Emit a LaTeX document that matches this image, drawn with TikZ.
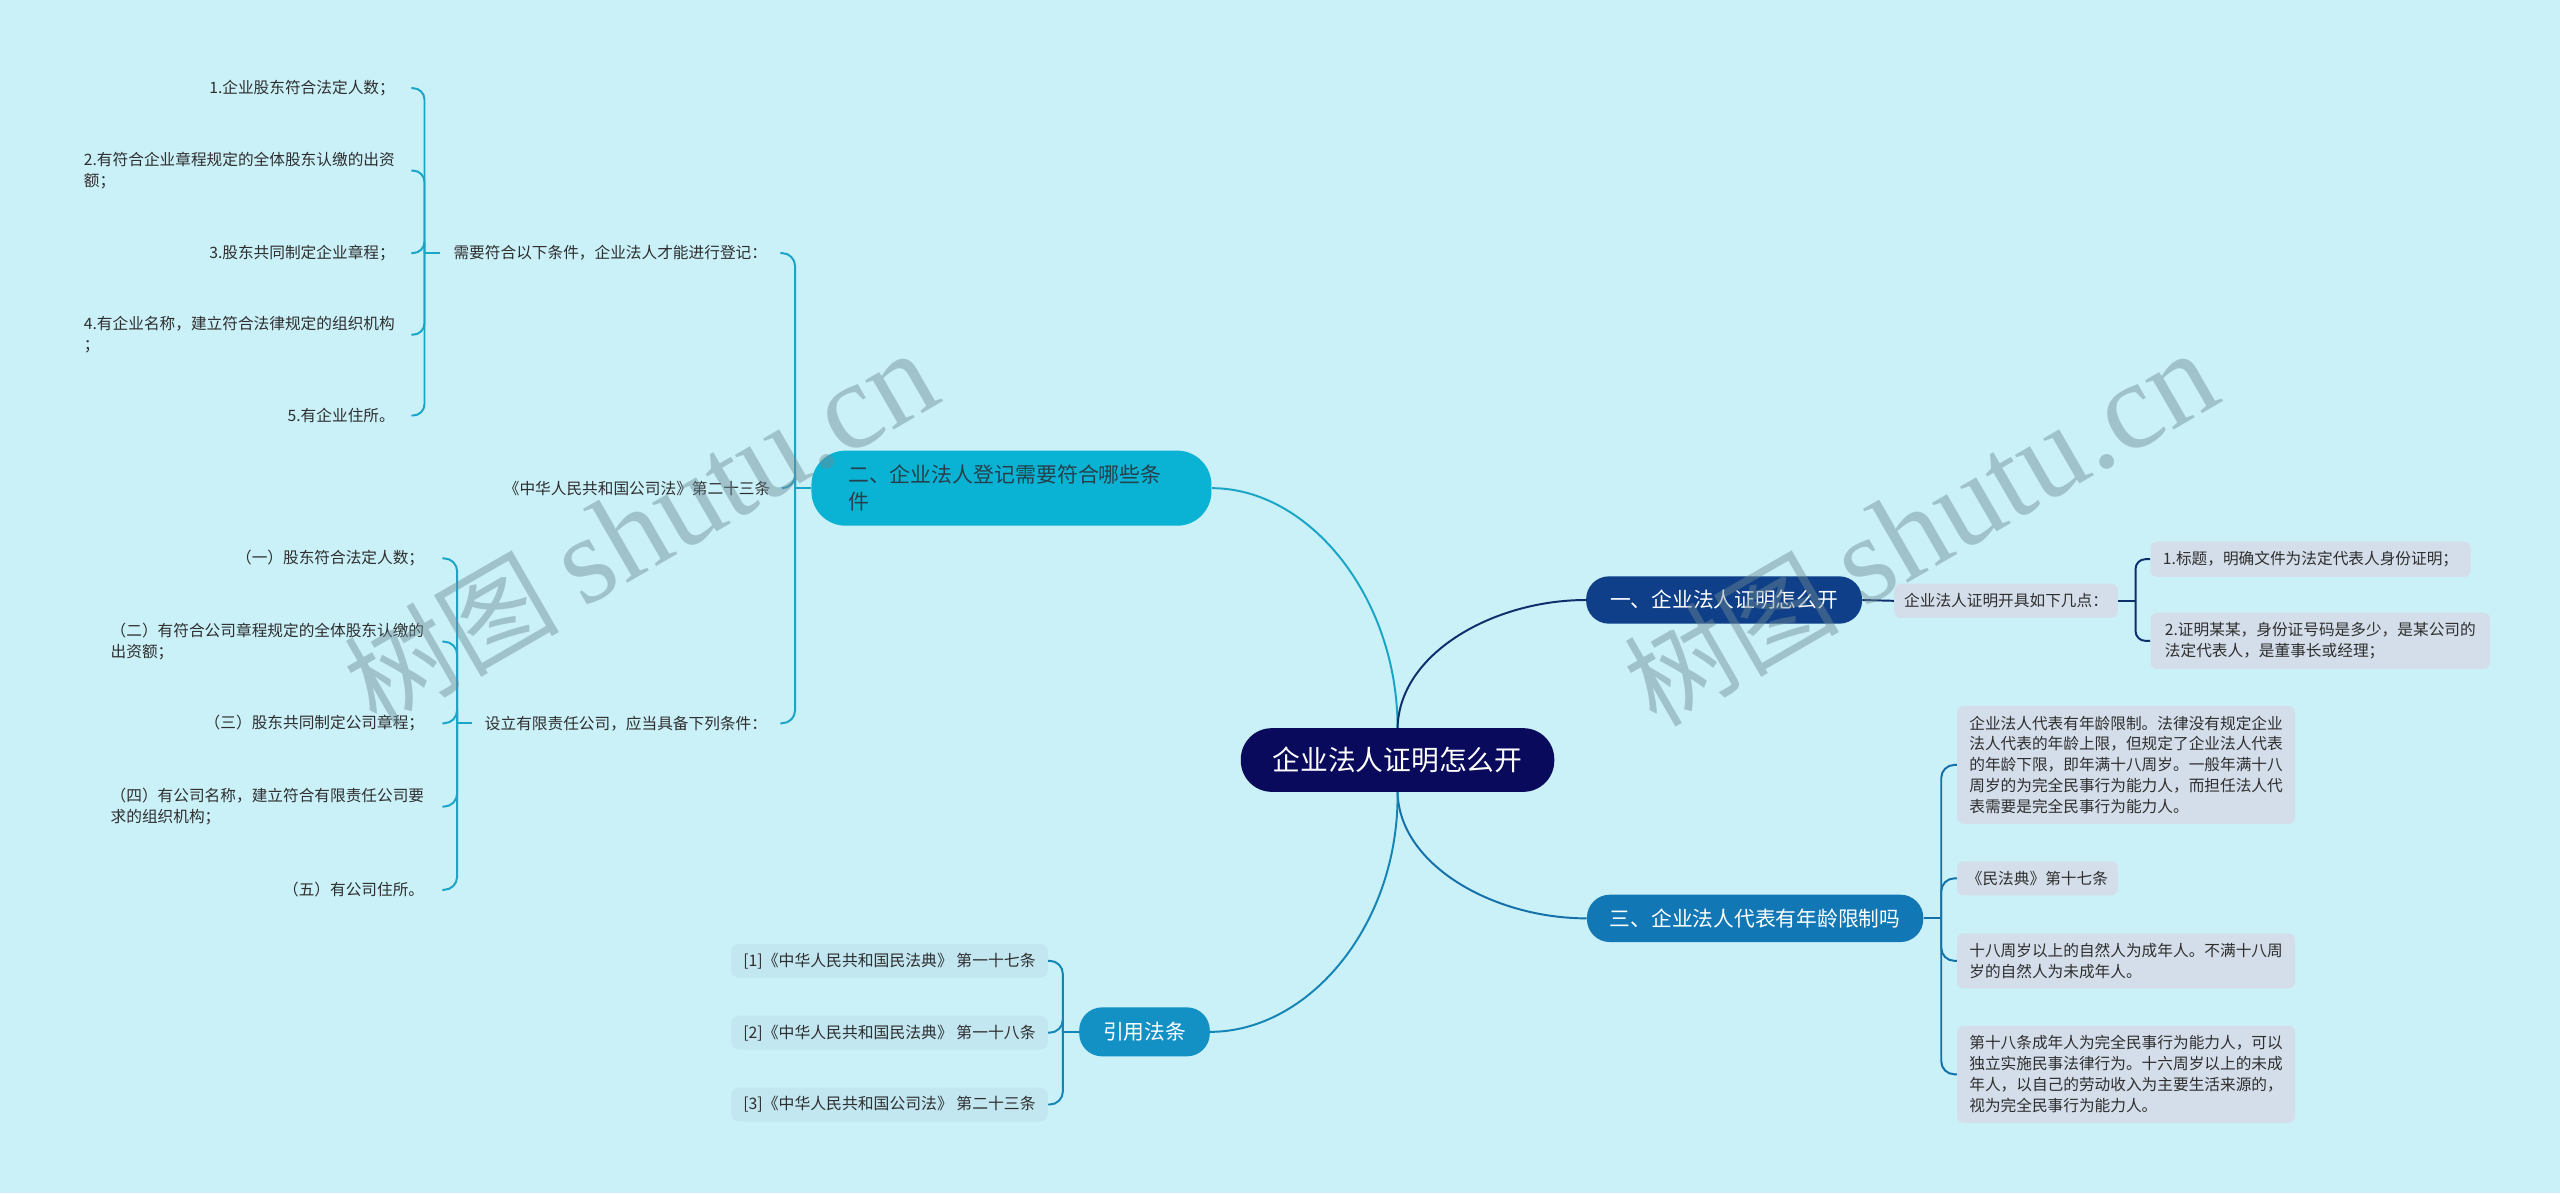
\documentclass[tikz,border=0pt]{standalone}
\usepackage{fontspec}
\setmainfont{Noto Sans CJK SC}
\newfontfamily\wmlatin{Liberation Serif}
\usetikzlibrary{calc}
\definecolor{bg}{HTML}{CAF0F8}
\definecolor{cnavy}{HTML}{0A0A5C}
\definecolor{bone}{HTML}{0E3F88}
\definecolor{lone}{HTML}{0D2F6B}
\definecolor{btwo}{HTML}{0AB2D4}
\definecolor{ltwo}{HTML}{19A5C6}
\definecolor{btwotxt}{HTML}{26404B}
\definecolor{bthree}{HTML}{1278B5}
\definecolor{lthree}{HTML}{1470A8}
\definecolor{bfour}{HTML}{1391C4}
\definecolor{lfour}{HTML}{1485B5}
\definecolor{leafbox}{HTML}{D4DEEA}
\definecolor{refbox}{HTML}{C2E7F1}
\definecolor{txt}{HTML}{2E2E2E}
\definecolor{wmcol}{HTML}{6E8A93}
\begin{document}
\begin{tikzpicture}[x=1pt,y=-1pt,
  central/.style={fill=cnavy, text=white, rounded corners=19pt, minimum width=192pt, minimum height=39pt, inner sep=0pt, font=\fontsize{17}{20}\selectfont},
  branch/.style={text=white, rounded corners=14pt, minimum height=29pt, inner sep=0pt, font=\fontsize{12.7}{15}\selectfont},
  leaf/.style={fill=leafbox, rounded corners=4pt, text=txt, align=left, inner xsep=6pt, inner ysep=6pt, font=\fontsize{9.6}{12.8}\selectfont},
  refnode/.style={fill=refbox, rounded corners=5pt, text=txt, inner xsep=6pt, inner ysep=5.5pt, minimum width=194pt, font=\fontsize{9.7}{12}\selectfont},
  plain/.style={text=txt, align=left, inner ysep=2pt, font=\fontsize{9.6}{13}\selectfont},
  conn/.style={line width=1.2pt},
  wmark/.style={text=wmcol, opacity=0.45, font=\fontsize{66}{70}\selectfont, inner sep=0pt}
]
\fill[bg] (0,0) rectangle (1568,731);
\useasboundingbox (0,0) rectangle (1568,731);

% central and branches
\node[central] (c) at (856,465.5) {企业法人证明怎么开};
\node[branch, fill=bone, minimum width=169pt] (b1) at (1056,367.5) {一、企业法人证明怎么开};
\node[branch, fill=bthree, minimum width=206pt] (b3) at (1075,562.5) {三、企业法人代表有年龄限制吗};
\node[branch, fill=btwo, text=btwotxt, minimum width=245pt, minimum height=46pt, rounded corners=21pt, align=left, text width=200pt, inner xsep=22pt, font=\fontsize{12.8}{16.5}\selectfont] (b2) at (619.5,299) {二、企业法人登记需要符合哪些条\\件};
\node[branch, fill=bfour, minimum width=80pt, minimum height=30pt] (b4) at (701,632) {引用法条};

% branch 1 subtree
\node[leaf, anchor=west, minimum width=137pt] (b1s) at (1160,368) {企业法人证明开具如下几点：};
\node[leaf, anchor=west, minimum width=196pt] (b1a) at (1317,342.5) {1.标题，明确文件为法定代表人身份证明；};
\node[leaf, anchor=west, minimum width=208pt] (b1b) at (1317,392.5) {2.证明某某，身份证号码是多少，是某公司的\\法定代表人，是董事长或经理；};

% branch 3 subtree
\node[leaf, anchor=west, minimum width=207pt] (b3a) at (1198.5,468.5) {企业法人代表有年龄限制。法律没有规定企业\\法人代表的年龄上限，但规定了企业法人代表\\的年龄下限，即年满十八周岁。一般年满十八\\周岁的为完全民事行为能力人，而担任法人代\\表需要是完全民事行为能力人。};
\node[leaf, anchor=west, minimum width=98pt] (b3b) at (1198.5,538) {《民法典》第十七条};
\node[leaf, anchor=west, minimum width=207pt] (b3c) at (1198.5,588.5) {十八周岁以上的自然人为成年人。不满十八周\\岁的自然人为未成年人。};
\node[leaf, anchor=west, minimum width=207pt] (b3d) at (1198.5,658) {第十八条成年人为完全民事行为能力人，可以\\独立实施民事法律行为。十六周岁以上的未成\\年人，以自己的劳动收入为主要生活来源的，\\视为完全民事行为能力人。};

% branch 2 subtree
\node[plain, anchor=east, inner xsep=8pt] (n1) at (478,155) {需要符合以下条件，企业法人才能进行登记：};
\node[plain, anchor=east, inner xsep=8pt] (n2) at (480,299) {《中华人民共和国公司法》第二十三条};
\node[plain, anchor=east, inner xsep=8pt] (n3) at (478,443) {设立有限责任公司，应当具备下列条件：};

\node[plain, anchor=east, inner xsep=10pt] (k1) at (252,54) {1.企业股东符合法定人数；};
\node[plain, anchor=east, inner xsep=10pt] (k2) at (252,104.5) {2.有符合企业章程规定的全体股东认缴的出资\\额；};
\node[plain, anchor=east, inner xsep=10pt] (k3) at (252,155) {3.股东共同制定企业章程；};
\node[plain, anchor=east, inner xsep=10pt] (k4) at (252,205) {4.有企业名称，建立符合法律规定的组织机构\\；};
\node[plain, anchor=east, inner xsep=10pt] (k5) at (252,254.5) {5.有企业住所。};

\node[plain, anchor=east, inner xsep=11pt] (m1) at (271,342) {（一）股东符合法定人数；};
\node[plain, anchor=east, inner xsep=11pt] (m2) at (271,393) {（二）有符合公司章程规定的全体股东认缴的\\出资额；};
\node[plain, anchor=east, inner xsep=11pt] (m3) at (271,443) {（三）股东共同制定公司章程；};
\node[plain, anchor=east, inner xsep=11pt] (m4) at (271,494) {（四）有公司名称，建立符合有限责任公司要\\求的组织机构；};
\node[plain, anchor=east, inner xsep=11pt] (m5) at (271,545) {（五）有公司住所。};

% branch 4 subtree
\node[refnode, anchor=east] (r1) at (642,588.5) {[1]《中华人民共和国民法典》 第一十七条};
\node[refnode, anchor=east] (r2) at (642,632.5) {[2]《中华人民共和国民法典》 第一十八条};
\node[refnode, anchor=east] (r3) at (642,676.5) {[3]《中华人民共和国公司法》 第二十三条};

% main connectors
\draw[conn, ltwo] (c.north) .. controls (856,366) and (802,299) .. (b2.east);
\draw[conn, lone] (c.north) .. controls (857,400) and (915,367.5) .. (b1.west);
\draw[conn, lthree] (c.south) .. controls (857,530) and (915,562.5) .. (b3.west);
\draw[conn, lfour] (c.south) .. controls (857,566) and (802,632) .. (b4.east);

% branch 1 brackets
\coordinate (j1) at (1308,368);
\draw[conn, lone] (b1.east) -- (b1s.west);
\draw[conn, lone] (b1s.east) -- (j1);
\draw[conn, lone, rounded corners=6pt] (j1) |- (b1a.west);
\draw[conn, lone, rounded corners=6pt] (j1) |- (b1b.west);

% branch 3 brackets
\coordinate (j3) at (1189,562.5);
\draw[conn, lthree] (b3.east) -- (j3);
\foreach \k in {b3a,b3b,b3c,b3d}{
  \draw[conn, lthree, rounded corners=8pt] (j3) |- (\k.west);
}

% branch 2 brackets
\coordinate (j2) at (487,299);
\draw[conn, ltwo] (b2.west) -- (j2);
\foreach \k in {n1,n2,n3}{
  \draw[conn, ltwo, rounded corners=8pt] (j2) |- (\k.east);
}
\coordinate (jn1) at (260,155);
\draw[conn, ltwo] (n1.west) -- (jn1);
\foreach \k in {k1,k2,k3,k4,k5}{
  \draw[conn, ltwo, rounded corners=7pt] (jn1) |- (\k.east);
}
\coordinate (jn3) at (280,443);
\draw[conn, ltwo] (n3.west) -- (jn3);
\foreach \k in {m1,m2,m3,m4,m5}{
  \draw[conn, ltwo, rounded corners=8pt] (jn3) |- (\k.east);
}

% branch 4 brackets
\coordinate (j4) at (651,632);
\draw[conn, lfour] (b4.west) -- (j4);
\foreach \k in {r1,r2,r3}{
  \draw[conn, lfour, rounded corners=8pt] (j4) |- (\k.east);
}

% watermarks
\node[wmark, rotate=30] (w1) at (392,324) {树图 {\wmlatin\fontsize{76}{80}\selectfont shutu.cn}};
\node[wmark, rotate=30] (w2) at (1176,324) {树图 {\wmlatin\fontsize{76}{80}\selectfont shutu.cn}};
\end{tikzpicture}
\end{document}
